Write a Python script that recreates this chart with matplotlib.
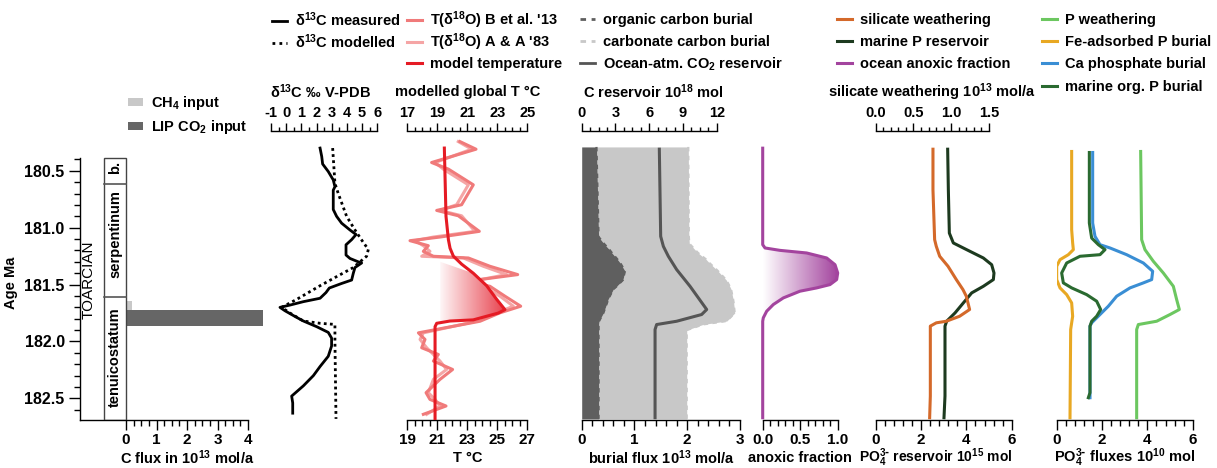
import numpy as np
import matplotlib
matplotlib.use("Agg")
import matplotlib.pyplot as plt
from matplotlib.lines import Line2D
from matplotlib.patches import Patch, Polygon, Rectangle
from matplotlib.colors import LinearSegmentedColormap
from matplotlib.ticker import MultipleLocator, FormatStrFormatter, FixedLocator

plt.rcParams.update({
    "font.family": ["Liberation Sans", "DejaVu Sans"],
    "font.weight": "bold",
    "font.size": 10.5,
    "mathtext.default": "regular",
    "axes.unicode_minus": False,
    "axes.linewidth": 1.0,
    "axes.labelweight": "bold",
})

# ---------------- data ----------------
# stratigraphy (age, Ma)
zone_bounds = [180.386, 180.614, 181.605, 182.69]
zone_names = ["b.", "serpentinum", "tenuicostatum"]
stage_name = "TOARCIAN"

# carbon inputs (10^13 mol/a)
input_names = ["CH$_4$ input", "LIP CO$_2$ input"]
input_start = [181.64, 181.72]
input_end = [181.80, 181.86]
input_flux = [0.19, 4.49]

# d13C (permil)
age_d13c_meas = [180.30, 180.374, 180.44, 180.506, 180.58, 180.64, 180.67, 180.84, 180.90, 180.96,
                 181.02, 181.06, 181.105, 181.15, 181.24, 181.27, 181.30, 181.31, 181.35, 181.40,
                 181.46, 181.49, 181.53, 181.57, 181.62, 181.65, 181.68, 181.70, 181.73, 181.78,
                 181.82, 181.87, 181.92, 181.97, 182.04, 182.13, 182.22, 182.30, 182.39, 182.48,
                 182.54, 182.63]
d13c_meas = [2.23, 2.34, 2.40, 2.77, 3.10, 3.21, 3.10, 3.10, 3.32, 3.65,
             4.20, 4.60, 4.31, 3.94, 3.94, 4.20, 4.75, 4.97, 4.53, 4.42,
             4.31, 3.65, 2.84, 2.62, 2.23, 1.13, 0.25, -0.41, -0.08, 0.58,
             1.13, 2.01, 2.77, 2.99, 2.99, 2.77, 2.23, 1.79, 1.13, 0.36,
             0.43, 0.43]
age_d13c_mod = [180.30, 180.61, 180.70, 180.90, 181.02, 181.13, 181.19, 181.25, 181.35, 181.43,
                181.51, 181.63, 181.70, 181.75, 181.82, 181.84, 181.85, 181.99, 182.68]
d13c_mod = [3.06, 3.21, 3.43, 3.98, 4.53, 5.08, 5.41, 5.30, 4.42, 3.32,
            2.23, 0.69, -0.30, 0.25, 1.13, 2.23, 3.21, 3.21, 3.28]

# temperatures (deg C)
age_tmod = [180.30, 180.52, 180.90, 181.105, 181.18, 181.25, 181.32, 181.40, 181.51, 181.63,
            181.72, 181.75, 181.81, 181.82, 181.84, 181.87, 182.68]
t_model = [19.47, 19.51, 19.58, 19.74, 19.85, 20.07, 20.62, 21.40, 22.29, 22.96,
           23.51, 23.07, 21.40, 19.85, 18.96, 18.85, 18.85]
age_tproxy = [180.243, 180.310, 180.427, 180.485, 180.623, 180.798, 180.848, 180.895, 181.032, 181.082,
              181.114, 181.158, 181.208, 181.251, 181.266, 181.339, 181.412, 181.471, 181.515, 181.602,
              181.690, 181.748, 181.822, 181.924, 181.982, 182.055, 182.114, 182.172, 182.246, 182.333,
              182.450, 182.509, 182.567, 182.640]
t_b13 = [22.51, 23.58, 20.62, 21.74, 23.40, 22.62, 20.96, 22.40, 23.80, 21.18,
         19.18, 20.40, 20.07, 20.74, 23.07, 24.51, 26.36, 22.96, 24.51, 25.51,
         26.56, 25.18, 23.85, 19.74, 20.18, 19.96, 21.07, 20.74, 22.02, 21.18,
         20.25, 20.51, 21.58, 20.07]
t_aa83 = [22.40, 23.29, 20.85, 21.40, 23.07, 22.29, 21.18, 22.62, 23.51, 20.74,
          19.51, 20.07, 20.51, 19.96, 22.74, 24.07, 25.62, 23.29, 24.07, 25.18,
          26.07, 24.96, 23.62, 20.07, 19.85, 20.29, 20.74, 21.18, 21.62, 20.74,
          20.40, 20.85, 21.18, 20.29]
t_shade_left = 19.2
t_shade_range = (181.30, 181.845)

# carbon burial (10^13 mol/a) and reservoir (10^18 mol)
age_burial = [180.29, 181.08, 181.14, 181.19, 181.22, 181.28, 181.31, 181.38, 181.40, 181.46,
              181.52, 181.54, 181.63, 181.66, 181.75, 181.82, 181.85, 181.90, 182.68]
org_burial = [0.28, 0.32, 0.42, 0.52, 0.57, 0.68, 0.73, 0.82, 0.81, 0.78,
              0.65, 0.60, 0.50, 0.48, 0.41, 0.33, 0.32, 0.32, 0.32]
carb_burial = [1.74, 1.71, 1.62, 1.62, 1.63, 1.68, 1.69, 1.76, 1.81, 1.96,
               2.16, 2.23, 2.37, 2.40, 2.49, 2.42, 1.98, 1.67, 1.67]
age_co2 = [180.310, 181.076, 181.164, 181.251, 181.368, 181.515, 181.719, 181.763, 181.822, 181.851,
           181.895, 182.670]
co2_res = [6.90, 7.02, 7.26, 7.70, 8.44, 9.63, 11.11, 10.66, 8.44, 6.66, 6.52, 6.52]

# anoxic fraction
age_anox = [180.301, 181.149, 181.178, 181.199, 181.222, 181.266, 181.325, 181.398, 181.456, 181.500,
            181.529, 181.558, 181.617, 181.675, 181.734, 181.792, 181.822, 182.670]
anox = [0, 0, 0.031, 0.23, 0.586, 0.853, 0.964, 1.0, 0.986, 0.897,
        0.72, 0.497, 0.275, 0.142, 0.053, 0.008, 0, 0]

# silicate weathering (10^13 mol/a) and marine P reservoir (10^15 mol)
age_sil = [180.310, 180.667, 181.105, 181.164, 181.251, 181.339, 181.456, 181.544, 181.602, 181.719,
           181.778, 181.822, 181.836, 181.865, 182.479, 182.670]
sil_weath = [0.758, 0.758, 0.78, 0.802, 0.847, 0.957, 1.067, 1.155, 1.199, 1.243,
             1.111, 0.935, 0.802, 0.723, 0.723, 0.714]
age_pres = [180.310, 180.667, 181.047, 181.134, 181.193, 181.266, 181.325, 181.398, 181.456, 181.515,
            181.573, 181.661, 181.749, 181.822, 181.865, 182.479, 182.670]
p_res = [3.175, 3.205, 3.249, 3.425, 4.013, 4.748, 5.116, 5.219, 5.190, 4.748,
         4.234, 3.866, 3.499, 3.131, 3.057, 3.057, 3.013]

# PO4 fluxes (10^10 mol)
age_pw = [180.330, 181.105, 181.193, 181.295, 181.398, 181.515, 181.632, 181.719, 181.763, 181.822,
          181.851, 181.895, 182.670]
p_weath = [3.704, 3.748, 3.895, 4.263, 4.704, 5.146, 5.293, 5.410, 4.998, 4.410, 3.601, 3.528, 3.528]
age_fe = [180.330, 181.017, 181.134, 181.193, 181.237, 181.281, 181.339, 181.456, 181.529, 181.588,
          181.661, 181.778, 181.836, 181.895, 182.670]
p_fe = [0.660, 0.660, 0.704, 0.734, 0.513, 0.146, 0.0, 0.0, 0.146, 0.44,
        0.660, 0.704, 0.660, 0.616, 0.587]
age_ca = [180.339, 180.959, 181.076, 181.149, 181.178, 181.237, 181.310, 181.383, 181.456, 181.485,
          181.529, 181.602, 181.690, 181.763, 181.836, 181.865, 182.494]
p_ca = [1.587, 1.587, 1.690, 1.910, 2.351, 3.087, 3.822, 4.234, 4.190, 3.822,
        3.234, 2.646, 2.278, 1.910, 1.543, 1.469, 1.469]
age_org = [180.339, 180.959, 181.091, 181.149, 181.193, 181.237, 181.251, 181.310, 181.398, 181.485,
           181.529, 181.588, 181.646, 181.719, 181.778, 181.822, 181.865, 182.450, 182.494]
p_org = [1.440, 1.440, 1.543, 1.837, 2.131, 1.910, 1.028, 0.440, 0.219, 0.293,
         0.660, 1.322, 1.763, 1.940, 1.763, 1.543, 1.469, 1.469, 1.396]

# colours
C_CH4, C_LIP = "#c8c8c8", "#666666"
C_B13, C_AA83, C_TMOD = "#f07a7a", "#f5a5a5", "#e51b24"
C_ORG, C_CARB, C_CO2 = "#5f5f5f", "#c8c8c8", "#555555"
C_ANOX = "#a3449e"
C_SIL, C_PRES = "#d4692a", "#1d3a1f"
C_PW, C_FE, C_CA, C_PORG = "#6cc760", "#e8a823", "#3a8ed4", "#2a6a30"

PO4 = "PO$_4^{3\\text{-}}$"

# ---------------- layout ----------------
W, H = 1217, 468
fig = plt.figure(figsize=(W / 100, H / 100), dpi=100)
Y_TOP, Y_BOT = 131, 420
YLIM = (182.69, 180.15)


def make_ax(x0, x1):
    ax = fig.add_axes([x0 / W, (H - Y_BOT) / H, (x1 - x0) / W, (Y_BOT - Y_TOP) / H])
    ax.set_ylim(*YLIM)
    ax.patch.set_visible(False)
    for s in ("top", "right", "left"):
        ax.spines[s].set_visible(False)
    ax.tick_params(axis="y", left=False, labelleft=False)
    return ax


def style_bottom(ax, major, minor, fmt, label, labx=0.5, lsize=10.5):
    ax.xaxis.set_major_locator(FixedLocator(major))
    ax.xaxis.set_minor_locator(FixedLocator(minor))
    ax.xaxis.set_major_formatter(FormatStrFormatter(fmt))
    ax.tick_params(axis="x", which="major", direction="out", length=7, width=1, pad=2, labelsize=11)
    ax.tick_params(axis="x", which="minor", direction="out", length=4, width=1)
    ax.set_xlabel(label, fontsize=lsize)
    ax.xaxis.set_label_coords(labx, (Y_BOT - 458) / (Y_BOT - Y_TOP))
    ax.xaxis.label.set_va("center")


def style_top(ax, major, minor, fmt, label, labx=0.5, bounds=None):
    ax.xaxis.tick_top()
    ax.xaxis.set_label_position("top")
    ax.spines["top"].set_visible(True)
    ax.spines["bottom"].set_visible(False)
    for s in ("left", "right"):
        ax.spines[s].set_visible(False)
    if bounds is not None:
        ax.spines["top"].set_bounds(*bounds)
    ax.xaxis.set_major_locator(FixedLocator(major))
    ax.xaxis.set_minor_locator(FixedLocator(minor))
    ax.xaxis.set_major_formatter(FormatStrFormatter(fmt))
    ax.tick_params(axis="x", which="major", direction="out", length=6, width=1, pad=2, labelsize=10.5,
                   top=True, bottom=False, labeltop=True, labelbottom=False)
    ax.tick_params(axis="x", which="minor", direction="out", length=3, width=1, top=True, bottom=False)
    ax.set_xlabel(label, fontsize=10.5)
    ax.xaxis.set_label_coords(labx, (Y_BOT - 92) / (Y_BOT - Y_TOP))
    ax.xaxis.label.set_va("center")


def gradient_fill(ax, xs, ys, color, zorder=1):
    poly = Polygon(np.column_stack([xs, ys]), closed=True, fc="none", ec="none")
    ax.add_patch(poly)
    cmap = LinearSegmentedColormap.from_list("g", ["#ffffff", color])
    grad = np.linspace(0, 1, 256).reshape(1, -1)
    xl, yl = ax.get_xlim(), ax.get_ylim()
    im = ax.imshow(grad, extent=[min(xs), max(xs), max(ys), min(ys)], cmap=cmap,
                   aspect="auto", zorder=zorder, interpolation="bilinear")
    im.set_clip_path(poly)
    ax.set_xlim(xl)
    ax.set_ylim(yl)


def row_legends(handles, labels, x, ys, hl=1.05, pad=0.5, hh=0.7):
    for h, l, y in zip(handles, labels, ys):
        fig.legend([h], [l], loc="center left", bbox_to_anchor=(x / W, 1 - y / H),
                   frameon=False, handlelength=hl, handleheight=hh, handletextpad=pad,
                   borderpad=0, borderaxespad=0, fontsize=10.5)


# ---- panel 1: carbon inputs + stratigraphy ----
ax1 = make_ax(80, 263.25)
ax1.set_xlim(-1.51, 4.5)
ax1.spines["left"].set_visible(True)
ax1.spines["left"].set_bounds(zone_bounds[0], zone_bounds[-1])
ax1.spines["bottom"].set_bounds(-1.51, 4)
ax1.tick_params(axis="y", left=True, labelleft=True, which="both")
ax1.yaxis.set_major_locator(MultipleLocator(0.5))
ax1.yaxis.set_minor_locator(FixedLocator(np.arange(180.4, 182.69, 0.1)))
ax1.yaxis.set_major_formatter(FormatStrFormatter("%.1f"))
ax1.tick_params(axis="y", which="major", length=8, width=1, pad=3, labelsize=11.5)
ax1.tick_params(axis="y", which="minor", length=4, width=1)
ax1.set_ylabel("Age Ma", fontsize=10.5)
ax1.yaxis.set_label_coords((18 - 80) / 183.25, (Y_BOT - 283) / (Y_BOT - Y_TOP))
style_bottom(ax1, [0, 1, 2, 3, 4], np.arange(0, 4.01, 0.25), "%d",
             "C flux in 10$^{13}$ mol/a", labx=(187 - 80) / 183.25)
ax1.set_ylim(*YLIM)

col_x0 = -0.72
ax1.add_patch(Rectangle((col_x0, zone_bounds[0]), -col_x0, zone_bounds[-1] - zone_bounds[0],
                        fill=False, ec="#444444", lw=1, zorder=3))
for b in zone_bounds[1:-1]:
    ax1.plot([col_x0, 0], [b, b], color="#555555", lw=1.2, zorder=3)
zone_text_y = [180.47, (zone_bounds[1] + zone_bounds[2]) / 2 - 0.05, (zone_bounds[2] + zone_bounds[3]) / 2 - 0.01]
for name, yv in zip(zone_names, zone_text_y):
    ax1.text(col_x0 / 2, yv, name, rotation=90, ha="center", va="center", fontsize=10.5, zorder=4)
ax1.text(-1.24, 181.46, stage_name, rotation=90, ha="center", va="center", fontsize=11, fontweight="normal")

input_colors = [C_CH4, C_LIP]
for s, e, f, c in zip(input_start, input_end, input_flux, input_colors):
    ax1.barh(s, f, height=e - s, left=0, align="edge", color=c, edgecolor="none", zorder=2)

row_legends([Patch(fc=C_CH4, ec="none"), Patch(fc=C_LIP, ec="none")], input_names, 128, [103, 127],
            hl=1.05, hh=0.5)

# ---- panel 2: d13C ----
ax2 = make_ax(271, 377.3)
ax2.set_xlim(-1, 6)
ax2.plot(d13c_meas, age_d13c_meas, color="black", lw=2)
ax2.plot(d13c_mod, age_d13c_mod, color="black", lw=2, ls=(0, (1, 1.2)))
style_top(ax2, np.arange(-1, 7, 1), np.arange(-1, 6.01, 0.5), "%d", "δ$^{13}$C ‰ V-PDB",
          labx=(320 - 271) / 106.3)

# ---- panel 3: temperature ----
ax3 = make_ax(407.3, 527.3)
ax3.set_xlim(19, 27)
ax3.plot(t_aa83, age_tproxy, color=C_AA83, lw=2.2)
ax3.plot(t_b13, age_tproxy, color=C_B13, lw=2.2)
style_bottom(ax3, [19, 21, 23, 25, 27], np.arange(19, 27.01, 0.5), "%d", "T °C")
ax3t = ax3.twiny()
ax3t.set_xlim(17, 25)
ax3t.set_ylim(*YLIM)
ax3t.patch.set_visible(False)
tm = np.array(t_model)
ta = np.array(age_tmod)
msk = (ta >= t_shade_range[0] + 0.02) & (ta <= t_shade_range[1])
gx = np.concatenate([[t_shade_left], tm[msk], [t_shade_left]])
gy = np.concatenate([[t_shade_range[0]], ta[msk], [t_shade_range[1]]])
gradient_fill(ax3t, gx, gy, "#e8404c", zorder=1)
ax3t.plot(t_model, age_tmod, color=C_TMOD, lw=2.2, zorder=3)
style_top(ax3t, [17, 19, 21, 23, 25], np.arange(17, 25.01, 0.5), "%d", "modelled global T °C")

# ---- panel 4: carbon burial ----
ax4 = make_ax(581.7, 740)
ax4.set_xlim(0, 3)
org = np.array(org_burial)
tot = org + np.array(carb_burial)
ax4.fill_betweenx(age_burial, org, tot, color=C_CARB, lw=0, zorder=1)
ax4.fill_betweenx(age_burial, 0, org, color=C_ORG, lw=0, zorder=2)
ax4.plot(tot, age_burial, color=C_CARB, lw=1.6, ls=(0, (2, 2)), zorder=1)
ax4.plot(org, age_burial, color=C_ORG, lw=1.6, ls=(0, (2, 2)), zorder=2)
style_bottom(ax4, [0, 1, 2, 3], np.arange(0, 3.01, 0.2), "%d", "burial flux 10$^{13}$ mol/a")
ax4t = ax4.twiny()
ax4t.set_xlim(0, 14.07)
ax4t.set_ylim(*YLIM)
ax4t.patch.set_visible(False)
ax4t.plot(co2_res, age_co2, color=C_CO2, lw=2.2, zorder=3)
style_top(ax4t, [0, 3, 6, 9, 12], np.arange(0, 12.01, 0.75), "%d", "C reservoir 10$^{18}$ mol",
          labx=(653 - 581.7) / 158.3, bounds=(0, 12))

# ---- panel 5: anoxic fraction ----
ax5 = make_ax(762.7, 837.7)
ax5.set_xlim(0, 1)
an = np.array(anox)
aa = np.array(age_anox)
gradient_fill(ax5, np.concatenate([an, [0]]), np.concatenate([aa, [aa[0]]]), C_ANOX, zorder=1)
ax5.plot(anox, age_anox, color=C_ANOX, lw=2.2, zorder=3, clip_on=False)
style_bottom(ax5, [0, 0.5, 1.0], np.arange(0, 1.01, 0.1), "%.1f", "anoxic fraction")

# ---- panel 6: P reservoir + silicate weathering ----
ax6 = make_ax(875.7, 1011.7)
ax6.set_xlim(0, 6)
ax6.plot(p_res, age_pres, color=C_PRES, lw=2.2, zorder=3)
style_bottom(ax6, [0, 2, 4, 6], np.arange(0, 6.01, 0.4), "%d", PO4 + " reservoir 10$^{15}$ mol",
             labx=(936 - 875.7) / 136, lsize=10)
ax6t = ax6.twiny()
ax6t.set_xlim(0, 1.80)
ax6t.set_ylim(*YLIM)
ax6t.patch.set_visible(False)
ax6t.plot(sil_weath, age_sil, color=C_SIL, lw=2.2, zorder=2)
style_top(ax6t, [0, 0.5, 1.0, 1.5], np.arange(0, 1.51, 0.1), "%.1f", "silicate weathering 10$^{13}$ mol/a",
          labx=(932 - 875.7) / 136, bounds=(0, 1.5))

# ---- panel 7: PO4 fluxes ----
ax7 = make_ax(1056.7, 1192.7)
ax7.set_xlim(0, 6)
ax7.plot(p_fe, age_fe, color=C_FE, lw=2.2)
ax7.plot(p_weath, age_pw, color=C_PW, lw=2.2)
ax7.plot(p_ca, age_ca, color=C_CA, lw=2.2)
ax7.plot(p_org, age_org, color=C_PORG, lw=2.2)
style_bottom(ax7, [0, 2, 4, 6], np.arange(0, 6.01, 0.4), "%d", PO4 + " fluxes 10$^{10}$ mol")

# ---- legends ----
rows = [20, 42, 64, 87]
row_legends([Line2D([], [], color="black", lw=2), Line2D([], [], color="black", lw=2, ls=(0, (1, 1.5)))],
            ["δ$^{13}$C measured", "δ$^{13}$C modelled"], 272, rows)
row_legends([Line2D([], [], color=C_B13, lw=2.2), Line2D([], [], color=C_AA83, lw=2.2),
             Line2D([], [], color=C_TMOD, lw=2.2)],
            ["T(δ$^{18}$O) B et al. '13", "T(δ$^{18}$O) A & A '83", "model temperature"], 407, rows)
row_legends([Line2D([], [], color=C_ORG, lw=2, ls=(0, (2, 2))), Line2D([], [], color=C_CARB, lw=2, ls=(0, (2, 2))),
             Line2D([], [], color=C_CO2, lw=2)],
            ["organic carbon burial", "carbonate carbon burial", "Ocean-atm. CO$_2$ reservoir"], 580, rows)
row_legends([Line2D([], [], color=C_SIL, lw=2.2), Line2D([], [], color=C_PRES, lw=2.2),
             Line2D([], [], color=C_ANOX, lw=2.2)],
            ["silicate weathering", "marine P reservoir", "ocean anoxic fraction"], 837, rows)
row_legends([Line2D([], [], color=C_PW, lw=2.2), Line2D([], [], color=C_FE, lw=2.2),
             Line2D([], [], color=C_CA, lw=2.2), Line2D([], [], color=C_PORG, lw=2.2)],
            ["P weathering", "Fe-adsorbed P burial", "Ca phosphate burial", "marine org. P burial"], 1042, rows)

fig.savefig("out.png", dpi=100)
